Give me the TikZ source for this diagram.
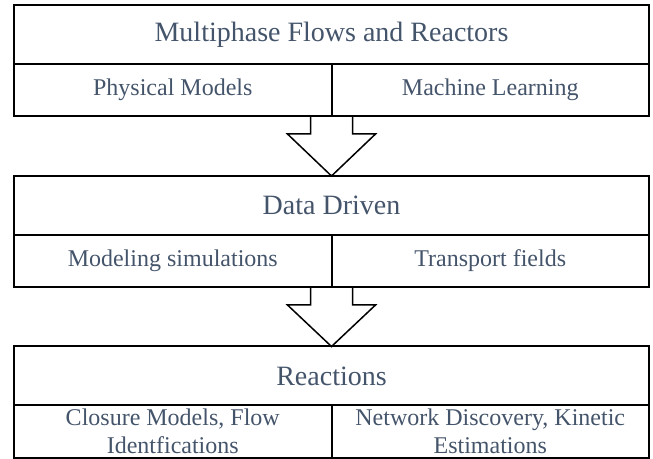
\documentclass[tikz,border=0pt]{standalone}
\usepackage{fontspec}
\setmainfont{Liberation Serif}
\usetikzlibrary{calc}
\definecolor{slatetxt}{HTML}{44546A}
\tikzset{
  headbox/.style={draw, line width=1pt, minimum width=317.5pt, minimum height=29.5pt,
    inner sep=0pt, outer sep=0pt, text=slatetxt, font=\fontsize{14}{16}\selectfont},
  cellbox/.style={draw, line width=1pt, minimum width=158.75pt, minimum height=26pt,
    inner sep=0pt, outer sep=0pt, text=slatetxt, align=center, font=\fontsize{12}{14}\selectfont},
  bigarrow/.style={line width=0.75pt, line join=miter}
}
\begin{document}
\begin{tikzpicture}[x=0.5pt, y=-0.5pt]
  \useasboundingbox (0,0) rectangle (653,459);
  % level 1
  \node[headbox] (h1) at (331.5,34.5) {Multiphase Flows and Reactors};
  \node[cellbox, anchor=north west] (l1) at (h1.south west) {Physical Models};
  \node[cellbox, anchor=north east] (r1) at (h1.south east) {Machine Learning};
  % level 2
  \node[headbox] (h2) at (331.5,205.5) {Data Driven};
  \node[cellbox, anchor=north west] (l2) at (h2.south west) {Modeling simulations};
  \node[cellbox, anchor=north east] (r2) at (h2.south east) {Transport fields};
  % level 3
  \node[headbox] (h3) at (331.5,376) {Reactions};
  \node[cellbox, anchor=north west] (l3) at (h3.south west) {Closure Models, Flow\\Identfications};
  \node[cellbox, anchor=north east] (r3) at (h3.south east) {Network Discovery, Kinetic\\Estimations};
  % block arrows between levels
  \foreach \a/\b in {l1/h2, l2/h3}
    \draw[bigarrow] ($(\a.south east)+(-21,0)$) -- ++(0,18) -- ++(-23,0) -- (\b.north)
      -- ($(\a.south east)+(44,18)$) -- ++(-23,0) -- ($(\a.south east)+(21,0)$);
\end{tikzpicture}
\end{document}
